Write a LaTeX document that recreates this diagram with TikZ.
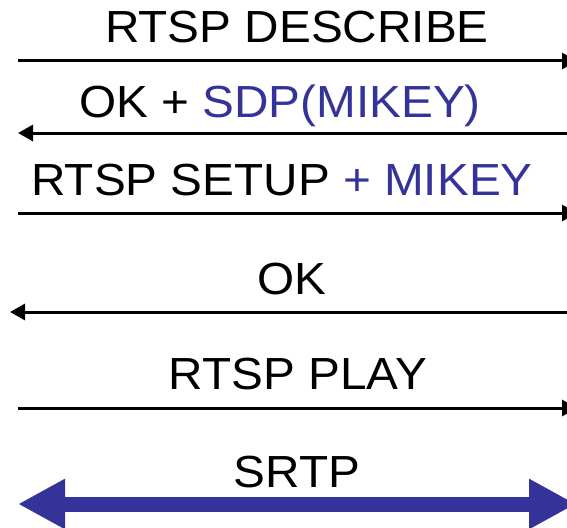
\documentclass[tikz,border=0pt]{standalone}
\usepackage{fontspec}
\setmainfont{Liberation Sans}
\usetikzlibrary{arrows.meta}
\definecolor{srtpblue}{HTML}{333399}
% labels are set slightly wide
\newcommand{\widetext}[1]{\scalebox{1.06}[1]{#1}}
\tikzset{
  msg/.style={anchor=base, inner sep=0pt, font=\fontsize{45}{54}\selectfont},
  call/.style={line width=3pt, draw=black, -{Triangle[length=15pt,width=16pt]}},
  media/.style={line width=15pt, draw=srtpblue, {Triangle[length=47pt,width=47pt]}-{Triangle[length=47pt,width=47pt]}},
}
\begin{document}
\begin{tikzpicture}[x=1pt, y=-1pt]
  \useasboundingbox (0,0) rectangle (567,527);

  % message labels
  \node[msg] (describe) at (297,43) {\widetext{RTSP DESCRIBE}};
  \node[msg] (okSdp) at (280,117) {\widetext{OK + \textcolor{srtpblue}{SDP(MIKEY)}}};
  \node[msg] (setup) at (282,195) {\widetext{RTSP SETUP \textcolor{srtpblue}{+ MIKEY}}};
  \node[msg] (ok) at (292,294) {\widetext{OK}};
  \node[msg] (play) at (298,389) {\widetext{RTSP PLAY}};
  \node[msg] (srtp) at (297,487) {\widetext{SRTP}};

  % ends of the message lines
  \coordinate (c1) at (18,61);   \coordinate (s1) at (577,61);
  \coordinate (c2) at (18,133);  \coordinate (s2) at (590,133);
  \coordinate (c3) at (18,213);  \coordinate (s3) at (577,213);
  \coordinate (c4) at (10,312);  \coordinate (s4) at (590,312);
  \coordinate (c5) at (18,408);  \coordinate (s5) at (577,408);
  \coordinate (c6) at (18,504);  \coordinate (s6) at (576,504);

  % client/server exchanges
  \draw[call] (c1) -- (s1);
  \draw[call] (s2) -- (c2);
  \draw[call] (c3) -- (s3);
  \draw[call] (s4) -- (c4);
  \draw[call] (c5) -- (s5);
  \draw[media] (c6) -- (s6);
\end{tikzpicture}
\end{document}
